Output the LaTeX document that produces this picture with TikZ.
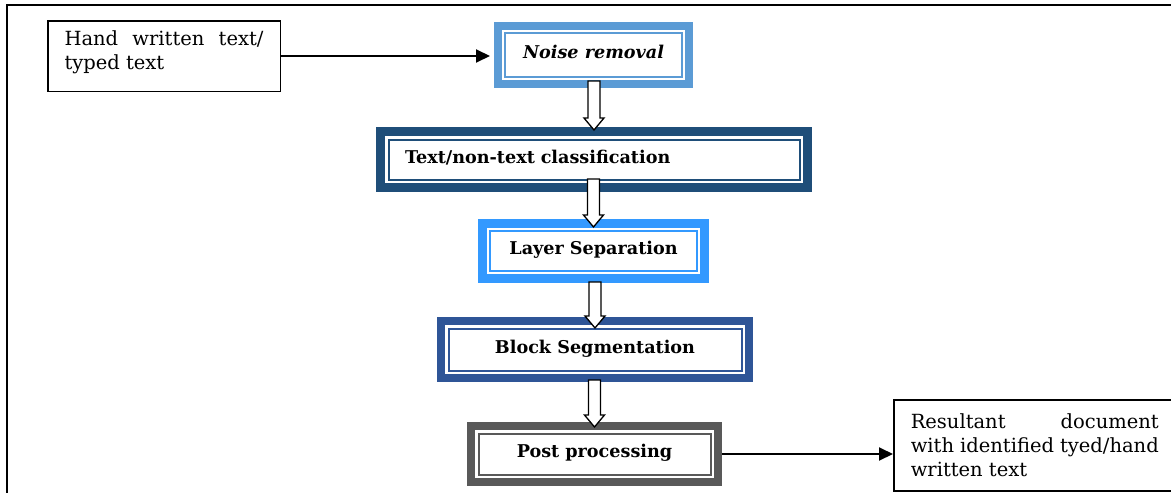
\documentclass[tikz,border=0pt]{standalone}
\usepackage{fontspec}
\setmainfont{DejaVu Serif}
\usetikzlibrary{arrows.meta,calc}
\definecolor{bA}{HTML}{5B9BD5}
\definecolor{bB}{HTML}{1F4E79}
\definecolor{bC}{HTML}{3399FF}
\definecolor{bD}{HTML}{2F5597}
\definecolor{bE}{HTML}{595959}
\tikzset{
  flowbox/.style={fill=white, inner sep=0pt, text height=15pt, text depth=8pt, font=\fontsize{17.6}{23}\selectfont\bfseries},
  sidebox/.style={draw=black, line width=1.5pt, fill=white, anchor=north west, font=\fontsize{19.5}{24}\selectfont},
  conn/.style={line width=2pt, -{Triangle[length=14pt,width=13pt]}},
  hollow/.style={draw=black, fill=white, line width=1.3pt, line join=miter},
  innerline/.style={line width=2pt},
}
\newcommand{\innerframe}[3]{%
  \draw[innerline,#2] ([shift={(#3,-#3)}]#1.north west) rectangle ([shift={(-#3,#3)}]#1.south east);}
\newcommand{\hollowarrow}[2]{%
  \draw[hollow] let \p1=(#1), \p2=(#2) in (\x2-6pt,\y1) -- (\x2-6pt,\y2+12pt) -- (\x2-10pt,\y2+12pt) -- (\x2,\y2) -- (\x2+10pt,\y2+12pt) -- (\x2+6pt,\y2+12pt) -- (\x2+6pt,\y1) -- cycle;}
\begin{document}
\begin{tikzpicture}[x=1pt,y=-1pt]
\useasboundingbox (0,0) rectangle (1171,493);
\clip (0,0) rectangle (1171,493);
\fill[white] (0,0) rectangle (1171,493);
\draw[line width=2pt] (7,510) -- (7,5) -- (1190,5);

\node[flowbox, draw=bA, line width=8pt, minimum width=191pt, minimum height=58pt] (b1) at (593.5,55) {\textit{Noise removal}};
\innerframe{b1}{bA}{11pt}
\node[flowbox, draw=bB, line width=9pt, minimum width=427pt, minimum height=56pt, text width=378pt, align=left, inner xsep=24.5pt] (b2) at (594,159.5) {Text/non-text classification};
\innerframe{b2}{bB}{12.5pt}
\node[flowbox, draw=bC, line width=9pt, minimum width=222pt, minimum height=55pt] (b3) at (593.5,251) {Layer Separation};
\innerframe{b3}{bC}{12pt}
\node[flowbox, draw=bD, line width=8pt, minimum width=308pt, minimum height=57pt] (b4) at (595,349.5) {Block Segmentation};
\innerframe{b4}{bD}{11.5pt}
\node[flowbox, draw=bE, line width=8pt, minimum width=247pt, minimum height=56pt] (b5) at (594.5,454) {Post processing};
\innerframe{b5}{bE}{11.5pt}

\node[sidebox, text width=199pt, inner xsep=16.75pt, minimum height=70.5pt, inner ysep=7pt, align=justify] (in) at (47,20) {Hand written text/\linebreak typed text\rule[-11pt]{0pt}{1pt}};
\node[sidebox, text width=248pt, align=justify, inner xsep=17pt, inner ysep=12pt, minimum height=91pt] (out) at (893,399) {Resultant document\linebreak with identified tyed/hand\linebreak written text};

\draw[conn, shorten >=4pt] (in.east) -- (in.east -| b1.west);
\draw[conn] (b5.east) -- (b5.east -| out.west);

\coordinate (s1) at ([yshift=7pt]b1.south);
\coordinate (t1) at ([yshift=-3pt]b2.north);
\coordinate (s2) at ([yshift=13pt]b2.south);
\coordinate (t2) at ([yshift=-8pt]b3.north);
\coordinate (s3) at ([yshift=1pt]b3.south);
\coordinate (t3) at ([yshift=-11pt]b4.north);
\coordinate (s4) at ([yshift=2pt]b4.south);
\coordinate (t4) at ([yshift=-5pt]b5.north);
\hollowarrow{s1}{t1}
\hollowarrow{s2}{t2}
\hollowarrow{s3}{t3}
\hollowarrow{s4}{t4}
\end{tikzpicture}
\end{document}
